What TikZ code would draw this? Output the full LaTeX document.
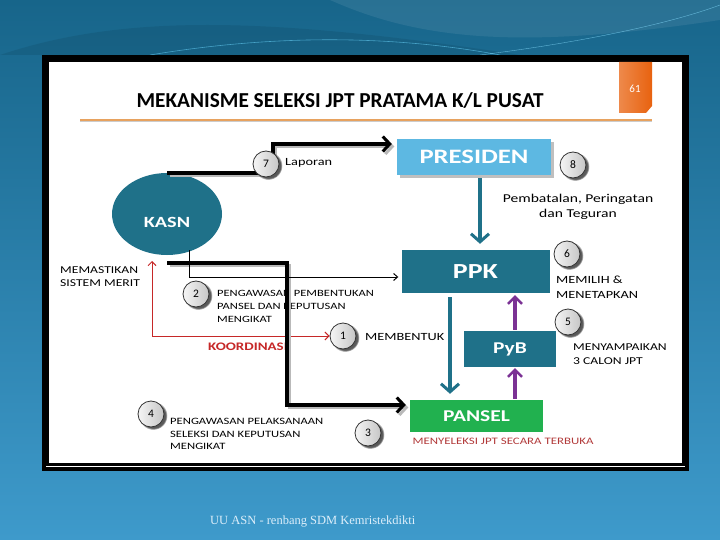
\documentclass[tikz,border=0pt]{standalone}
\usepackage{fontspec}
\setmainfont{Carlito}
\newfontfamily\lebar[FakeStretch=1.3]{Carlito}
\newfontfamily\footfont{Liberation Serif}
\usetikzlibrary{positioning,arrows.meta,calc,shapes.geometric,shadows}

\definecolor{bgtop}{HTML}{17658A}
\definecolor{bgbot}{HTML}{3E9ACB}
\definecolor{kasnteal}{HTML}{1F7189}
\definecolor{presblue}{HTML}{5DB8E2}
\definecolor{panselgreen}{HTML}{21B14F}
\definecolor{ungu}{HTML}{7B3294}
\definecolor{oranye}{HTML}{E8620F}
\definecolor{garis}{HTML}{E7A25F}
\definecolor{merah}{HTML}{C62828}
\definecolor{merahtua}{HTML}{B23A3A}
\definecolor{footblue}{HTML}{DCEEFA}

\begin{document}
\begin{tikzpicture}[x=1pt, y=-1pt,
  box/.style={rectangle, inner sep=0pt, text=white},
  nomor/.style={circle, draw=black!80, thick, left color=gray!8, right color=gray!45, minimum size=26pt, inner sep=0pt,
    font=\fontsize{11.5}{13}\selectfont,
    circular drop shadow={shadow xshift=2pt, shadow yshift=-1.5pt, fill=black!65}},
  ket/.style={anchor=west, align=left, inner sep=0pt},
  fat/.style={line width=3.5pt, -{Straight Barb[length=7pt, width=15pt, line width=3pt]}},
  fatshadow/.style={fat, draw=gray!55, transform canvas={shift={(2.5pt,-2.5pt)}}},
  thinarrow/.style={line width=1pt, -{Straight Barb[length=4pt, width=7pt]}},
  tealarrow/.style={draw=kasnteal, line width=4pt, -{Straight Barb[length=8pt, width=18pt, line width=3pt]}},
  purplearrow/.style={draw=ungu, line width=3.5pt, -{Straight Barb[length=7pt, width=14pt, line width=2.5pt]}},
  koord/.style={draw=merah, line width=1pt, {Straight Barb[length=4pt, width=8pt]}-{Straight Barb[length=4pt, width=8pt]}}
]

% Background and frame
\shade[top color=bgtop, bottom color=bgbot] (0,0) rectangle (720,540);
\useasboundingbox (0,0) rectangle (720,540);
\fill[bgtop!80!black, opacity=0.35] (0,55) .. controls (120,15) and (260,15) .. (520,55) -- cycle;
\draw[cyan!60!white, opacity=0.6, line width=0.6pt] (150,55) .. controls (300,30) and (420,40) .. (500,55);
\fill[white, opacity=0.08] (330,0) .. controls (420,40) and (520,50) .. (720,20) -- (720,0) -- cycle;
\draw[cyan!50!white, opacity=0.7] (480,55) .. controls (600,40) and (680,20) .. (720,5);
\fill[black] (42,55) rectangle (689,471);
\fill[white] (49,62) rectangle (682,463);
\draw[white, line width=0.8pt] (46,466.5) -- (685,466.5);

% Page tab and title
\shade[left color=oranye!75!white, right color=oranye] (619,62) -- (652,62) -- (652,106) -- (646,113) -- (619,113) -- cycle;
\node[text=white, font=\fontsize{11}{12}\selectfont] (hal) at (635,89) {61};
\node[font=\fontsize{21.3}{23}\selectfont\bfseries] (judul) at (340,101) {MEKANISME SELEKSI JPT PRATAMA K/L PUSAT};
\draw[gray!40, line width=1.5pt] (80,121.5) -- (652,121.5);
\draw[garis, line width=1.2pt] (80,120) -- (652,120);

% Main boxes
\node[ellipse, fill=kasnteal, minimum width=110pt, minimum height=82pt, inner sep=0pt, text=white,
  font=\lebar\fontsize{15.6}{17}\selectfont\bfseries, text height=28pt, text depth=0pt] (kasn) at (167,214) {KASN};
\node[box, fill=presblue, minimum width=154pt, minimum height=36pt, font=\lebar\fontsize{20.5}{22}\selectfont\bfseries,
  drop shadow={shadow xshift=3pt, shadow yshift=-3pt, fill=gray!50, opacity=1}] (presiden) at (474,157) {PRESIDEN};
\node[box, fill=kasnteal, minimum width=148pt, minimum height=43pt, font=\lebar\fontsize{21.5}{23}\selectfont\bfseries] (ppk) at (475.5,271.5) {PPK};
\node[box, fill=kasnteal, minimum width=92pt, minimum height=36pt, font=\lebar\fontsize{16.5}{18}\selectfont\bfseries] (pyb) at (510,349) {PyB};
\node[box, fill=panselgreen, minimum width=133pt, minimum height=32pt, font=\lebar\fontsize{16.5}{18}\selectfont\bfseries] (pansel) at (476.5,416) {PANSEL};

% Labels
\node[ket, font=\lebar\fontsize{11}{13}\selectfont] (laporan) at (285,163) {Laporan};
\node[align=center, inner sep=0pt, font=\lebar\fontsize{12}{15}\selectfont] (sanksi) at (578,207) {Pembatalan, Peringatan\\dan Teguran};
\node[ket, font=\lebar\fontsize{11}{14.5}\selectfont] (memilih) at (556,287) {MEMILIH \&\\MENETAPKAN};
\node[ket, font=\lebar\fontsize{10.5}{14}\selectfont] (sampaikan) at (573,354) {MENYAMPAIKAN\\3 CALON JPT};
\node[ket, font=\lebar\fontsize{11}{14}\selectfont] (membentuk) at (365,337) {MEMBENTUK};
\node[ket, font=\lebar\fontsize{9.6}{13}\selectfont] (awasbentuk) at (217,306) {PENGAWASAN PEMBENTUKAN\\PANSEL DAN KEPUTUSAN\\MENGIKAT};
\node[ket, font=\lebar\fontsize{10.5}{13}\selectfont] (merit) at (60,276.5) {MEMASTIKAN\\SISTEM MERIT};
\node[text=merah, inner sep=0pt, font=\lebar\fontsize{11.5}{13}\selectfont\bfseries] (koordinasi) at (248,347) {KOORDINASI};
\node[ket, font=\lebar\fontsize{9.7}{12.5}\selectfont] (awasseleksi) at (170,434) {PENGAWASAN PELAKSANAAN\\SELEKSI DAN KEPUTUSAN\\MENGIKAT};
\node[text=merahtua, inner sep=0pt, font=\lebar\fontsize{9.9}{12}\selectfont] (seleksi) at (503,441) {MENYELEKSI JPT SECARA TERBUKA};

% Koordinasi
\node[nomor] (n1) at (343,336) {1};
\coordinate (naik) at (152,261);
\draw[koord] (naik) |- (n1.west);

% KASN arrows
\foreach \s in {fatshadow, fat} {
  \draw[\s] (kasn.north) -- ++(106,0) |- ($(presiden.west)+(-5,-13)$);
  \draw[\s] ($(kasn.south)+(0,8)$) -- ++(120,0) |- ($(pansel.west)+(-4,-11)$);
}
\draw[thinarrow] ($(kasn.south)+(22,-5)$) |- ($(ppk.west)+(-3,5.5)$);

% Vertical arrows
\draw[tealarrow] ($(presiden.south)+(6,3)$) -- ($(ppk.north)+(4.5,-6)$);
\draw[tealarrow] ($(ppk.south)+(-25.5,4)$) -- ($(pansel.north)+(-26.5,-6)$);
\draw[purplearrow] ($(pyb.north)+(5,-1)$) -- ($(ppk.south)+(39.5,2)$);
\draw[purplearrow] ($(pansel.north)+(38.5,-1)$) -- ($(pyb.south)+(5,1)$);

% Step numbers
\node[nomor] (n7) at (266,164) {7};
\node[nomor] (n8) at (573,165) {8};
\node[nomor] (n6) at (567,254) {6};
\node[nomor] (n5) at (568,322) {5};
\node[nomor] (n2) at (196,294) {2};
\node[nomor] (n4) at (151,414) {4};
\node[nomor] (n3) at (368,433) {3};

% Footer
\node[anchor=west, inner sep=0pt, text=footblue, font=\footfont\fontsize{12.5}{14}\selectfont] (kaki) at (210,522) {UU ASN - renbang SDM Kemristekdikti};

\end{tikzpicture}
\end{document}
